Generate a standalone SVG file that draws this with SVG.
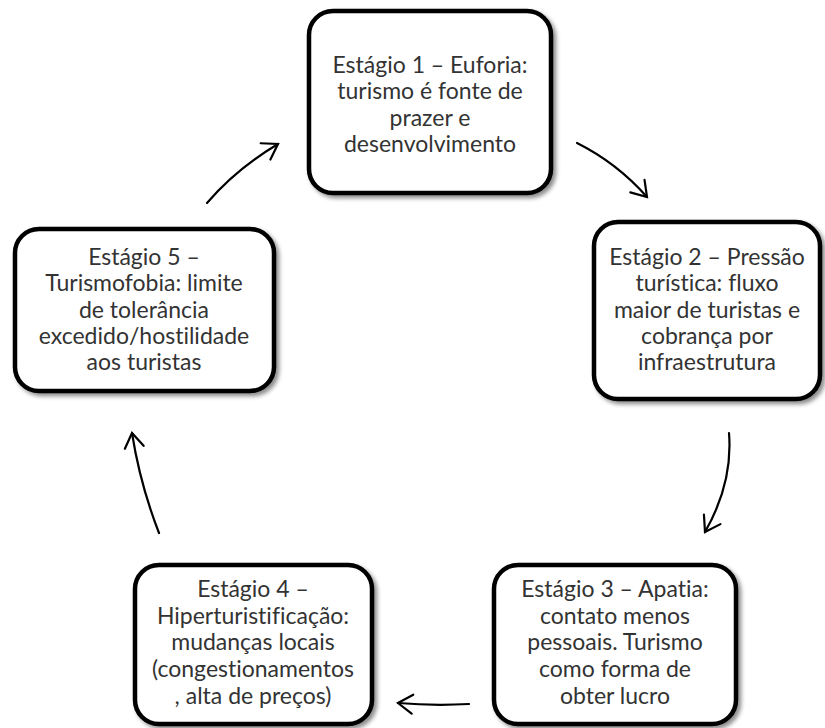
<svg xmlns="http://www.w3.org/2000/svg" width="825" height="728" viewBox="0 0 825 728">
<defs>
<filter id="sh" x="-10%" y="-10%" width="125%" height="125%">
<feDropShadow dx="3" dy="3" stdDeviation="2.2" flood-color="#000" flood-opacity="0.45"/>
</filter>
<marker id="ah" markerUnits="userSpaceOnUse" markerWidth="30" markerHeight="30" viewBox="-20 -15 25 30" refX="0" refY="0" orient="auto">
<path d="M-14.5,-9.5 L0,0 L-14.5,9.5" fill="none" stroke="#000" stroke-width="2.2" stroke-linecap="round" stroke-linejoin="miter"/>
</marker>
</defs>
<style>
.box{fill:#fff;stroke:#000;stroke-width:4.5;filter:url(#sh)}
.t{font-family:Lato,"Carlito","Liberation Sans",sans-serif;font-size:23px;fill:#333;text-anchor:middle;font-variant-ligatures:none;font-feature-settings:"liga" 0}
.c{fill:none;stroke:#000;stroke-width:2.2;stroke-linecap:round;marker-end:url(#ah)}
</style>
<rect width="825" height="728" fill="#fff"/>
<g id="connectors">
<path class="c" d="M577,143 Q617,163 647,197"/>
<path class="c" d="M729,433 Q733,483 705,532"/>
<path class="c" d="M469,704 Q433,706 398,703"/>
<path class="c" d="M159,533 Q140,484 132,433"/>
<path class="c" d="M207,203 Q236,169 278,144"/>
</g>
<g id="n1">
<rect class="box" x="309" y="11" width="242" height="182" rx="24"/>
<text class="t" x="430" y="73">Estágio 1 – Euforia:</text>
<text class="t" x="430" y="99.3">turismo é fonte de</text>
<text class="t" x="430" y="125.6">prazer e</text>
<text class="t" x="430" y="152">desenvolvimento</text>
</g>
<g id="n2">
<rect class="box" x="594" y="222" width="226" height="177" rx="24"/>
<text class="t" x="707" y="265">Estágio 2 – Pressão</text>
<text class="t" x="707" y="291.3">turística: fluxo</text>
<text class="t" x="707" y="317.6">maior de turistas e</text>
<text class="t" x="707" y="343.9">cobrança por</text>
<text class="t" x="707" y="370.2">infraestrutura</text>
</g>
<g id="n3">
<rect class="box" x="494" y="565" width="242" height="159" rx="24"/>
<text class="t" x="615" y="597">Estágio 3 – Apatia:</text>
<text class="t" x="615" y="623.7">contato menos</text>
<text class="t" x="615" y="650.4">pessoais. Turismo</text>
<text class="t" x="615" y="677.1">como forma de</text>
<text class="t" x="615" y="703.8">obter lucro</text>
</g>
<g id="n4">
<rect class="box" x="135" y="565" width="237" height="159" rx="24"/>
<text class="t" x="253" y="597">Estágio 4 –</text>
<text class="t" x="253" y="623.7">Hiperturistificação:</text>
<text class="t" x="253" y="650.4">mudanças locais</text>
<text class="t" x="253" y="677.1">(congestionamentos</text>
<text class="t" x="253" y="703.8">, alta de preços)</text>
</g>
<g id="n5">
<rect class="box" x="15" y="229" width="259" height="162" rx="24"/>
<text class="t" x="144" y="265">Estágio 5 –</text>
<text class="t" x="144" y="291.3">Turismofobia: limite</text>
<text class="t" x="144" y="317.6">de tolerância</text>
<text class="t" x="144" y="343.9">excedido/hostilidade</text>
<text class="t" x="144" y="370.2">aos turistas</text>
</g>
</svg>
